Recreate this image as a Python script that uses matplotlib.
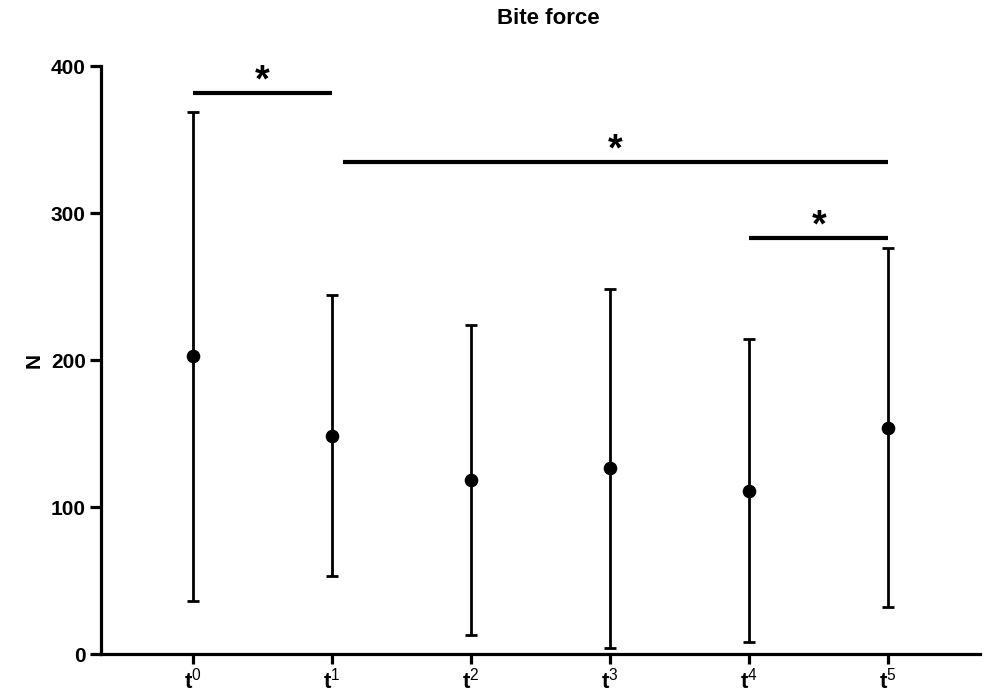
import numpy as np
import matplotlib
matplotlib.use("Agg")
import matplotlib.pyplot as plt

plt.rcParams['font.family'] = ['Liberation Sans', 'DejaVu Sans']
plt.rcParams['mathtext.fontset'] = 'custom'
plt.rcParams['mathtext.rm'] = 'Liberation Sans'
plt.rcParams['mathtext.bf'] = 'Liberation Sans:bold'

# data
labels = ["0", "1", "2", "3", "4", "5"]
means = [202.7, 148.3, 118.4, 126.4, 110.9, 153.7]
upper = [368.7, 244.2, 223.8, 248.2, 214.0, 276.2]
lower = [36.0, 53.1, 12.9, 4.0, 8.2, 32.0]

# significance brackets: (start, end, height)
brackets = [(0, 1, 381.6), (1.08, 5, 334.7), (4, 5, 283.2)]

x = np.arange(len(means))
means = np.array(means)
yerr = [means - np.array(lower), np.array(upper) - means]

fig = plt.figure(figsize=(9.86, 6.92), dpi=100)
ax = fig.add_axes([0.1024, 0.0549, 0.8916, 0.8497])

ax.errorbar(x, means, yerr=yerr, fmt='o', color='black', ms=8.8,
            elinewidth=2.0, capsize=4.2, capthick=2.0)

for x0, x1, h in brackets:
    ax.plot([x0, x1], [h, h], color='black', lw=3, solid_capstyle='butt')
    ax.text((x0 + x1) / 2, h + 1, '*', ha='center', va='baseline',
            fontsize=27, fontweight='bold')

ax.set_xlim(-0.66, 5.66)
ax.set_ylim(0, 400)
ax.set_yticks([0, 100, 200, 300, 400])
ax.set_xticks(x)
ax.set_xticklabels([r'$\mathbf{t}^{\mathrm{%s}}$' % l for l in labels], fontsize=16)
for lab in ax.get_yticklabels():
    lab.set_fontweight('bold')
    lab.set_fontsize(15)

ax.spines['top'].set_visible(False)
ax.spines['right'].set_visible(False)
ax.spines['left'].set_linewidth(2.3)
ax.spines['bottom'].set_linewidth(2.3)
ax.tick_params(axis='y', length=8, width=2.3, pad=3)
ax.tick_params(axis='x', length=7, width=2.3, pad=2.5)

ax.set_ylabel('N', fontsize=15, fontweight='bold', labelpad=5)
fig.text(548 / 986, 1 - 18 / 692, 'Bite force', ha='center', va='center',
         fontsize=16, fontweight='bold')

fig.savefig('out.png', dpi=100)
